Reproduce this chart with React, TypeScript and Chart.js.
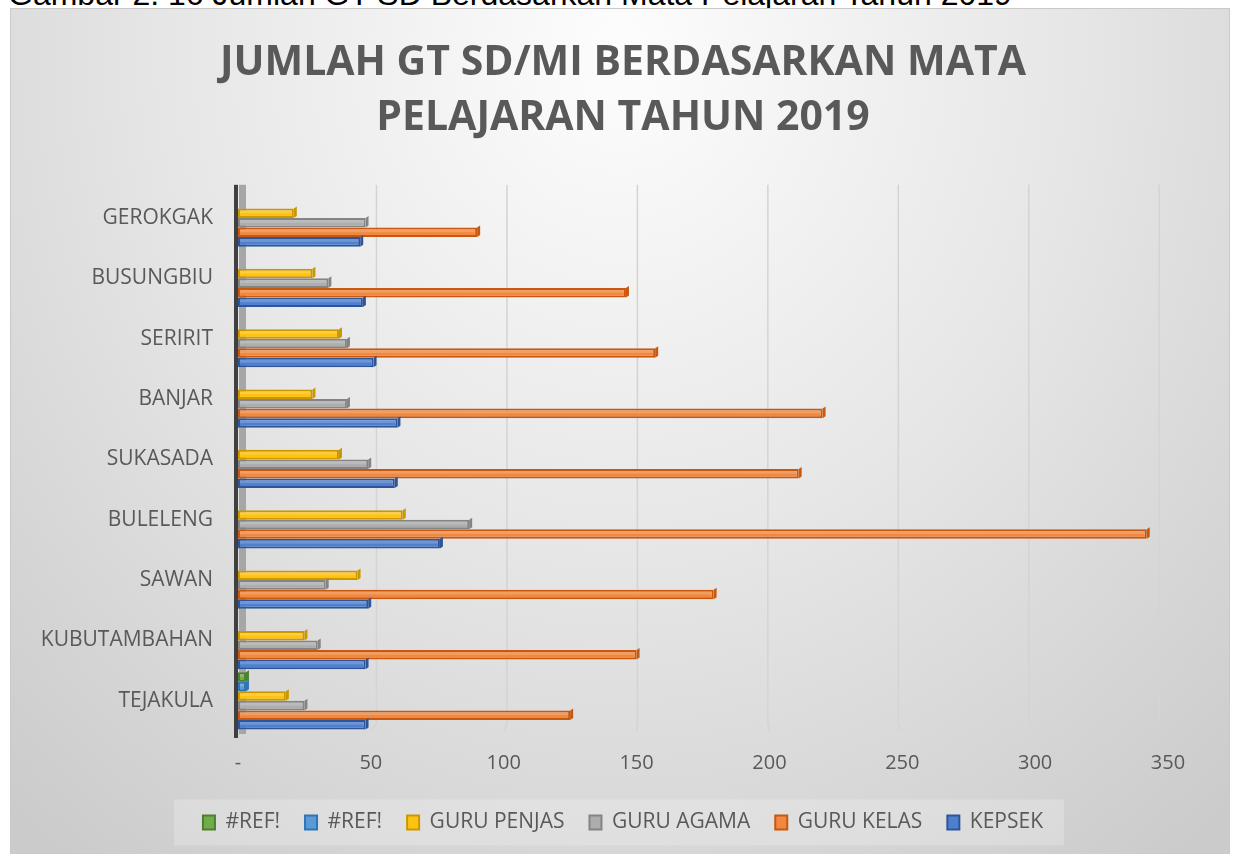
import React, { useEffect, useRef } from 'react';
import { Chart, registerables } from 'chart.js';

Chart.register(...registerables);

const caption = 'Gambar 2. 16 Jumlah GT SD Berdasarkan Mata Pelajaran Tahun 2019';
const titleLines = ['JUMLAH GT SD/MI BERDASARKAN MATA', 'PELAJARAN TAHUN 2019'];

const categories = ['GEROKGAK', 'BUSUNGBIU', 'SERIRIT', 'BANJAR', 'SUKASADA', 'BULELENG', 'SAWAN', 'KUBUTAMBAHAN', 'TEJAKULA'];

const seriesNames = ['#REF!', '#REF!', 'GURU PENJAS', 'GURU AGAMA', 'GURU KELAS', 'KEPSEK'];
const refGreen = [null, null, null, null, null, null, null, null, 3];
const refBlue = [null, null, null, null, null, null, null, null, 3];
const guruPenjas = [21, 28, 38, 28, 38, 62, 45, 25, 18];
const guruAgama = [48, 34, 41, 41, 49, 87, 33, 30, 25];
const guruKelas = [90, 146, 157, 220, 211, 342, 179, 150, 125];
const kepsek = [46, 47, 51, 60, 59, 76, 49, 48, 48];

const xMin = 0;
const xMax = 350;
const xStep = 50;
const xTickLabels = ['-', '50', '100', '150', '200', '250', '300', '350'];

const fills = ['#70AD47', '#5B9BD5', '#FFC20E', '#ADADAD', '#F0883F', '#4F7FCF'];
const borders = ['#4E7F30', '#2E75B6', '#C99700', '#848484', '#C8570F', '#2F5597'];

const TEXT = '#595959';
const FONT = "'Open Sans', 'Noto Sans', sans-serif";

const excel3d = {
  id: 'excel3d',
  beforeDraw(chart: any) {
    const lg = chart.legend;
    if (!lg || !lg.legendHitBoxes || !lg.legendHitBoxes.length) return;
    const hb = lg.legendHitBoxes;
    const first = hb[0];
    const last = hb[hb.length - 1];
    const cy = first.top + first.height / 2;
    const ctx = chart.ctx;
    ctx.save();
    ctx.fillStyle = 'rgba(255,255,255,0.22)';
    ctx.fillRect(first.left - 29, cy - 23, last.left + last.width + 21 - (first.left - 29), 46);
    ctx.restore();
  },
  beforeDatasetsDraw(chart: any) {
    const { ctx, chartArea: a, scales } = chart;
    const x = scales.x;
    ctx.save();
    ctx.strokeStyle = '#d4d4d4';
    ctx.lineWidth = 1.5;
    x.ticks.forEach((t: any) => {
      if (t.value === 0) return;
      const px = x.getPixelForValue(t.value);
      const bx = a.left + 8 + (px - a.left) * 0.982;
      ctx.beginPath();
      ctx.moveTo(bx, a.top - 3);
      ctx.lineTo(bx, a.bottom - 7);
      ctx.lineTo(px, a.bottom);
      ctx.stroke();
    });
    ctx.fillStyle = '#a6a6a6';
    ctx.fillRect(a.left + 1, a.top - 3, 7, a.bottom - a.top + 6);
    ctx.fillStyle = '#404040';
    ctx.fillRect(a.left - 4, a.top - 3, 4, a.bottom - a.top + 10);
    ctx.restore();
  },
  afterDatasetsDraw(chart: any) {
    const ctx = chart.ctx;
    ctx.save();
    chart.data.datasets.forEach((ds: any, di: number) => {
      const meta = chart.getDatasetMeta(di);
      meta.data.forEach((bar: any, i: number) => {
        if (ds.data[i] == null) return;
        const h = bar.height;
        const top = bar.y - h / 2;
        ctx.fillStyle = ds.borderColor;
        ctx.beginPath();
        ctx.moveTo(bar.x, top);
        ctx.lineTo(bar.x + 3, top - 2);
        ctx.lineTo(bar.x + 3, top + h - 2);
        ctx.lineTo(bar.x, top + h);
        ctx.closePath();
        ctx.fill();
        ctx.fillStyle = 'rgba(255,255,255,0.18)';
        ctx.fillRect(bar.base + 2, top + 2, bar.x - bar.base - 4, Math.max(1, h / 2 - 2));
      });
    });
    ctx.restore();
  },
};

export default function App() {
  const canvasRef = useRef<HTMLCanvasElement | null>(null);

  useEffect(() => {
    const canvas = canvasRef.current;
    if (!canvas) return;
    const series = [refGreen, refBlue, guruPenjas, guruAgama, guruKelas, kepsek];
    const chart = new Chart(canvas, {
      type: 'bar',
      data: {
        labels: categories,
        datasets: series.map((d, i) => ({
          label: seriesNames[i],
          data: d as any,
          backgroundColor: fills[i],
          borderColor: borders[i],
          borderWidth: 2,
          borderSkipped: false,
          categoryPercentage: 0.95,
          barPercentage: 1,
        })),
      },
      options: {
        indexAxis: 'y',
        animation: false,
        responsive: false,
        devicePixelRatio: 1,
        layout: { padding: { left: 68, right: 68, top: 0, bottom: 11 } },
        plugins: {
          title: {
            display: true,
            text: titleLines,
            color: TEXT,
            font: { family: FONT, size: 41, weight: 'bold', lineHeight: 55 / 41 },
            padding: { top: 35.5, bottom: 42.3 },
          },
          legend: {
            display: true,
            position: 'bottom',
            labels: {
              color: TEXT,
              font: { family: FONT, size: 21 },
              boxWidth: 12,
              boxHeight: 14,
              padding: 25,
            },
          },
          tooltip: { enabled: false },
        },
        scales: {
          x: {
            type: 'linear',
            position: 'bottom',
            min: xMin,
            max: xMax,
            grid: { display: false, drawTicks: false },
            border: { display: false },
            ticks: {
              stepSize: xStep,
              color: TEXT,
              font: { family: FONT, size: 20 },
              padding: 20,
              callback: (_v: any, i: number) => xTickLabels[i],
            },
            afterFit: (s: any) => { s.height = 56; },
          },
          y: {
            type: 'category',
            grid: { display: false, drawTicks: false },
            border: { display: false },
            ticks: {
              color: TEXT,
              font: { family: FONT, size: 21 },
              padding: 25,
              autoSkip: false,
            },
            afterFit: (s: any) => {
              s.width = 160;
              s._computeLabelArea = () => undefined;
            },
          },
        },
      },
      plugins: [excel3d],
    });
    return () => chart.destroy();
  }, []);

  return (
    <div style={{ position: 'fixed', left: 0, top: 0, width: 1233, height: 854, overflow: 'hidden', background: '#ffffff' }}>
      <div
        style={{
          position: 'absolute', left: 8, top: -21, whiteSpace: 'nowrap',
          fontFamily: "'Liberation Sans', Arial, sans-serif", fontSize: 32, lineHeight: '30px', color: '#000',
        }}
      >
        {caption}
      </div>
      <div
        style={{
          position: 'absolute', left: 10, top: 8, width: 1218, height: 850,
          border: '1px solid #c9c9c9',
          background: 'radial-gradient(ellipse 75% 120% at 50% 5%, #fdfdfd 0%, #e6e6e6 50%, #cbcbcb 100%)',
        }}
      />
      <canvas
        ref={canvasRef}
        width={1226}
        height={854}
        style={{ position: 'absolute', left: 10, top: 0, width: 1226, height: 854 }}
      />
    </div>
  );
}
